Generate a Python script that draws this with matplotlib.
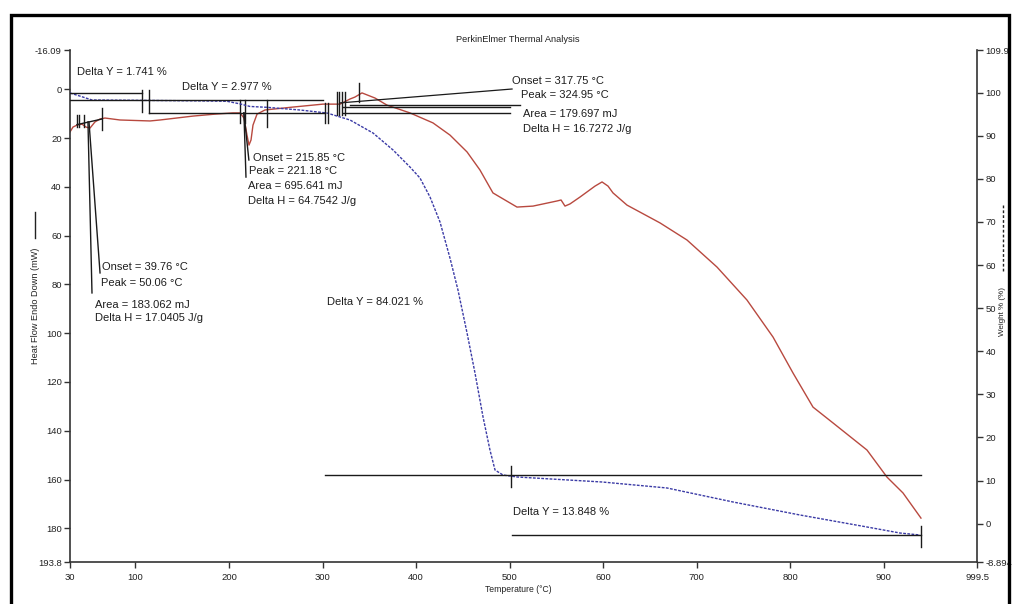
import matplotlib
matplotlib.use("Agg")
import matplotlib.pyplot as plt
from matplotlib.patches import Rectangle
from matplotlib.lines import Line2D

plt.rcParams['font.family'] = ['Liberation Sans', 'DejaVu Sans']

# ---------------- data ----------------
# DSC heat flow (left axis, mW) vs temperature (°C)
dsc_temp = [30, 33.2, 37.5, 42.8, 47.1, 51.4, 56.7, 62.1, 67.4, 83.4, 115.5, 126.2,
            161.5, 185, 204.2, 211.7, 216.0, 219.2, 221.3, 223.5, 225.6, 229.9,
            238.4, 268.4, 300.4, 318.6, 329.3, 334.6, 342.1, 356.0, 368.8, 393.4,
            418.0, 436.2, 454.4, 468.2, 482.1, 489.6, 507.8, 524.9, 550.6, 554.9,
            559.1, 564.5, 575.1, 591.2, 598.7, 605.1, 610.4, 625.4, 660.7, 689.5,
            721.6, 753.6, 781.5, 802.8, 824.2, 845.6, 881.9, 903.3, 920.4, 939.6]
dsc_flow = [17.5, 15.5, 14.7, 14.3, 15.5, 15.9, 13.4, 12.2, 11.8, 12.6, 13.0, 12.6,
            11.0, 10.2, 9.7, 9.7, 11.8, 18.8, 22.9, 20.8, 14.7, 10.2,
            8.5, 7.3, 6.1, 6.1, 4.0, 3.2, 1.5, 3.6, 6.5, 9.7,
            13.8, 18.8, 25.7, 33.1, 42.5, 44.2, 48.3, 47.9, 45.8, 45.4,
            47.9, 47.0, 44.2, 39.7, 38.0, 39.7, 42.5, 47.5, 54.8, 61.8,
            72.9, 86.4, 101.6, 116.3, 130.3, 136.8, 147.9, 159.0, 165.5, 175.8]

# TGA weight (right axis, %) vs temperature (°C)
tga_temp = [30, 40.7, 53.5, 115.5, 169.0, 197.8, 211.7, 222.4, 240.6, 275.8, 304.7,
            329.3, 353.9, 375.3, 393.4, 404.1, 414.8, 425.5, 436.2, 444.7, 454.4, 462.9,
            471.5, 478.9, 484.3, 492.8, 507.8, 598.7, 668.1, 738.7, 810.3, 881.9,
            917.2, 938.6]
tga_weight = [99.92, 99.2, 98.3, 98.2, 98.1, 98.0, 97.4, 96.8, 96.6, 95.98, 95.28,
              93.66, 90.64, 86.70, 82.75, 80.2, 75.8, 70.0, 61.6, 54.22, 44.24, 34.96,
              24.75, 17.09, 12.45, 11.29, 10.83, 9.67, 8.28, 5.03, 2.01, -0.77,
              -2.17, -2.63]

# step analysis (weight losses, %)
start_weight = 100.0
delta_y = [1.741, 2.977, 84.021, 13.848]

# peak results
peak_labels = [
    ["Onset = 39.76 °C", "Peak = 50.06 °C", "Area = 183.062 mJ", "Delta H = 17.0405 J/g"],
    ["Onset = 215.85 °C", "Peak = 221.18 °C", "Area = 695.641 mJ", "Delta H = 64.7542 J/g"],
    ["Onset = 317.75 °C", "Peak = 324.95 °C", "Area = 179.697 mJ", "Delta H = 16.7272 J/g"],
]

x_ticks = [30, 100, 200, 300, 400, 500, 600, 700, 800, 900, 999.5]
x_ticklabels = ["30", "100", "200", "300", "400", "500", "600", "700", "800", "900", "999.5"]
left_ticks = [-16.09, 0, 20, 40, 60, 80, 100, 120, 140, 160, 180, 193.8]
left_ticklabels = ["-16.09", "0", "20", "40", "60", "80", "100", "120", "140", "160", "180", "193.8"]
right_ticks = [109.9, 100, 90, 80, 70, 60, 50, 40, 30, 20, 10, 0, -8.894]
right_ticklabels = ["109.9", "100", "90", "80", "70", "60", "50", "40", "30", "20", "10", "0", "-8.894"]

# ---------------- figure ----------------
W, H = 1014, 604
fig = plt.figure(figsize=(W / 100, H / 100), dpi=100)
fig.patch.set_facecolor('white')

def fx(px):
    return px / W

def fy(py):
    return 1 - py / H

ax = fig.add_axes([fx(70), fy(562), fx(977) - fx(70), fy(50) - fy(562)])
ax2 = ax.twinx()

red = '#b8493f'
blue = '#3b3ba6'
ink = '#1a1a1a'

ax.plot(dsc_temp, dsc_flow, color=red, lw=1.0, zorder=2)
ax2.plot(tga_temp, tga_weight, color=blue, lw=1.0, ls=(0, (2, 1)), zorder=2)

ax.set_xlim(30, 999.5)
ax.set_ylim(193.8, -16.09)
ax2.set_ylim(-8.894, 109.9)

ax.set_xticks(x_ticks)
ax.set_xticklabels(x_ticklabels)
ax.set_yticks(left_ticks)
ax.set_yticklabels(left_ticklabels)
ax2.set_yticks(right_ticks)
ax2.set_yticklabels(right_ticklabels)

for a in (ax, ax2):
    a.spines['top'].set_visible(False)
    for s in ('left', 'right', 'bottom'):
        a.spines[s].set_color('#333333')
        a.spines[s].set_linewidth(1.2)
    a.tick_params(direction='out', length=4, width=1, color='#333333',
                  labelsize=6.8, labelcolor='#222222', pad=2)
ax.spines['right'].set_visible(False)
ax2.spines['left'].set_visible(False)
ax2.spines['bottom'].set_visible(False)
ax.tick_params(axis='x', pad=4)

# ---------- weight-step brackets (weight axis) ----------
lv0 = start_weight
lv1 = lv0 - delta_y[0]
lv2 = lv1 - delta_y[1]
lv3 = lv2 - delta_y[2]
lv4 = lv3 - delta_y[3]
lk = dict(color=ink, lw=1.0, zorder=3)
ax2.plot([30, 107], [lv0, lv0], **lk)
ax2.plot([107, 107], [100.6, 95.6], **lk)
ax2.plot([30, 300.4], [lv1, lv1], **lk)
ax2.plot([114.5, 114.5], [100.6, 95.3], **lk)
ax2.plot([114.5, 302.6], [lv2, lv2], **lk)
ax2.plot([302.6, 302.6], [97.6, 93.0], **lk)
ax2.plot([305.8, 305.8], [97.6, 93.0], **lk)
ax2.plot([302.6, 939.6], [lv3, lv3], **lk)
ax2.plot([501.4, 501.4], [13.3, 8.6], **lk)
ax2.plot([502.5, 939.6], [lv4, lv4], **lk)
ax2.plot([939.6, 939.6], [-0.5, -5.4], **lk)

# ---------- DSC peak annotation lines (heat-flow axis) ----------
# peak 1
for t in [37.5, 39.6, 45.0]:
    ax.plot([t, t], [10.6, 15.5], **lk)
ax.plot([64.2, 64.2], [7.7, 16.7], **lk)
ax.plot([37.5, 64.2], [14.5, 12.2], **lk)
ax.plot([49.2, 53.5], [13.4, 83.5], **lk)
ax.plot([50.3, 62.1], [13.4, 75.3], **lk)
# peak 2
for t in [211.7, 217.1]:
    ax.plot([t, t], [4.4, 13.8], **lk)
ax.plot([240.6, 240.6], [4.4, 15.5], **lk)
ax.plot([215.9, 221.2], [9.7, 29.0], **lk)
ax.plot([215.9, 218.1], [9.7, 36.0], **lk)
# peak 3
for t in [315.4, 317.5, 320.7, 323.9]:
    ax.plot([t, t], [1.1, 10.6], **lk)
ax.plot([338.9, 338.9], [-2.6, 5.2], **lk)
ax.plot([318.6, 502.5], [5.6, -0.1], color=ink, lw=0.9, zorder=3)
ax.plot([329.3, 511.0], [6.5, 6.5], **lk)
ax.plot([321.8, 500.3], [7.3, 7.3], **lk)
ax.plot([321.8, 500.3], [9.7, 9.7], **lk)

# ---------- texts ----------
tk = dict(fontsize=8, color='#1e1e1e', va='center', ha='left', zorder=5)
ax.text(37.5, -7.1, "Delta Y = %.3f %%" % delta_y[0], **tk)
ax.text(149.7, -0.9, "Delta Y = %.3f %%" % delta_y[1], **tk)
ax.text(304.7, 87.2, "Delta Y = %.3f %%" % delta_y[2], **tk)
ax.text(503.5, 173.3, "Delta Y = %.3f %%" % delta_y[3], **tk)

p1 = [(64.2, 72.9), (63.1, 79.4), (56.7, 88.4), (56.7, 93.8)]
p2 = [(225.6, 28.2), (221.3, 33.5), (220.3, 39.7), (220.3, 45.8)]
p3 = [(502.5, -3.4), (512.1, 2.4), (514.2, 10.2), (514.2, 16.3)]
for labels, pos in zip(peak_labels, [p1, p2, p3]):
    for lab, (x, y) in zip(labels, pos):
        ax.text(x, y, lab, **tk)

fig.text(fx(518), fy(39), "PerkinElmer Thermal Analysis", fontsize=6.7,
         color='#222222', ha='center', va='center')
fig.text(fx(518), fy(589), "Temperature (°C)", fontsize=6.2,
         color='#222222', ha='center', va='center')
fig.text(fx(35), fy(306), "Heat Flow Endo Down (mW)", fontsize=6.6, rotation=90,
         color='#222222', ha='center', va='center')
fig.add_artist(Line2D([fx(35), fx(35)], [fy(212), fy(238)], color='#222222', lw=1.0))
fig.text(fx(1002), fy(311), "Weight % (%)", fontsize=5.8, rotation=90,
         color='#222222', ha='center', va='center')
fig.add_artist(Line2D([fx(1003), fx(1003)], [fy(205), fy(272)], color='#222222',
                      lw=1.0, ls=(0, (2, 1.5))))

# outer frame
fig.add_artist(Rectangle((fx(11), -0.02), fx(1009) - fx(11), fy(15) + 0.02,
                         fill=False, edgecolor='black', lw=2.4,
                         transform=fig.transFigure))

fig.savefig("out.png", dpi=100, facecolor='white')
